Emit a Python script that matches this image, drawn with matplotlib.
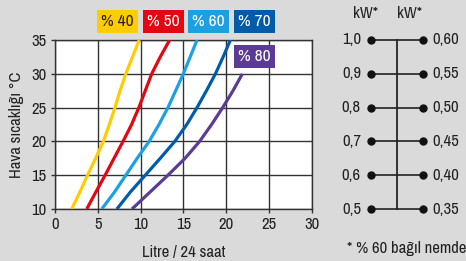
import matplotlib
matplotlib.use('Agg')
import matplotlib.pyplot as plt
from matplotlib.patches import Rectangle

plt.rcParams['font.family'] = ['Archivo Narrow', 'DejaVu Sans']

# temperatures (y) and litres / 24 h (x) per humidity curve
temp = [10, 12.5, 15, 17.5, 20, 22.5, 25, 27.5, 30, 32.5, 35]
rh40 = [1.95, 2.9, 3.8, 4.75, 5.65, 6.35, 7.0, 7.6, 8.28, 9.06, 9.84]
rh50 = [3.71, 4.77, 5.86, 6.9, 7.95, 8.95, 9.8, 10.55, 11.3, 12.3, 13.4]
rh60 = [5.47, 6.95, 8.28, 9.6, 11.0, 12.15, 13.2, 14.1, 15.0, 15.8, 16.6]
rh70 = [7.23, 8.8, 10.55, 12.3, 14.0, 15.4, 16.6, 17.7, 18.75, 19.65, 20.5]
temp80 = [10, 12.5, 15, 17.5, 20, 22.5, 25, 27.5, 30]
rh80 = [9.0, 11.1, 13.2, 15.2, 16.9, 18.3, 19.6, 20.8, 21.9]

labels = ['% 40', '% 50', '% 60', '% 70', '% 80']
colors = ['#FFCC00', '#E30613', '#1BA1E2', '#005CA9', '#5B3B93']
label_txt = ['#222222', 'white', 'white', 'white', 'white']

kw_left = ['1,0', '0,9', '0,8', '0,7', '0,6', '0,5']
kw_right = ['0,60', '0,55', '0,50', '0,45', '0,40', '0,35']

bg = '#DADADA'
W, H = 466, 261
fig = plt.figure(figsize=(W / 100, H / 100), dpi=100, facecolor=bg)

ax = fig.add_axes([55 / W, 1 - 209 / H, 256.7 / W, 169 / H])
ax.set_facecolor('white')
xs = [rh40, rh50, rh60, rh70, rh80]
ys = [temp, temp, temp, temp, temp80]
for x, y, c in zip(xs, ys, colors):
    ax.plot(x, y, color=c, lw=2.3, solid_capstyle='butt', solid_joinstyle='round', zorder=3)
ax.set_xlim(0, 30)
ax.set_ylim(10, 35)
ax.set_xticks(range(0, 31, 5))
ax.set_yticks(range(10, 36, 5))
ax.grid(True, color='#333333', lw=1.0)
for s in ax.spines.values():
    s.set_color('#333333')
    s.set_linewidth(1.0)
ax.tick_params(colors='#333333', labelcolor='#222222', labelsize=12, length=3, width=1.0, pad=3)
ax.set_xlabel('Litre / 24 saat', fontsize=12, color='#222222', labelpad=9)
ax.set_ylabel('Hava sıcaklığı °C', fontsize=12, color='#222222', labelpad=5)

# humidity label boxes (pixel positions of the boxes)
box_x = [97, 143, 188, 234, 234]
box_y = [10, 10, 10, 10, 45]
bw, bh = 41, 23
for lab, c, tc, bx, by in zip(labels, colors, label_txt, box_x, box_y):
    fig.patches.append(Rectangle((bx / W, 1 - (by + bh) / H), bw / W, bh / H,
                                 transform=fig.transFigure, fc=c, ec='none'))
    fig.text((bx + bw / 2) / W, 1 - (by + bh / 2) / H, lab, color=tc, fontsize=12.5,
             ha='center', va='center')

# right-hand kW scale
ax2 = fig.add_axes([320 / W, 1 - 209 / H, 146 / W, 169 / H])
ax2.set_xlim(320, 466)
ax2.set_ylim(10, 35)
ax2.axis('off')
rows = list(range(35, 9, -5))
ax2.plot([397, 397], [10, 35], color='#333333', lw=1.4, clip_on=False)
for r, l, rr in zip(rows, kw_left, kw_right):
    ax2.plot([371, 423], [r, r], color='#222222', lw=1.2, clip_on=False)
    ax2.plot([371, 423], [r, r], 'o', color='#111111', ms=5, clip_on=False)
    ax2.text(361, r, l, ha='right', va='center', fontsize=12, color='#222222')
    ax2.text(432, r, rr, ha='left', va='center', fontsize=12, color='#222222')

fig.text(366 / W, 1 - 13 / H, 'kW*', ha='center', va='center', fontsize=12, color='#222222')
fig.text(410 / W, 1 - 13 / H, 'kW*', ha='center', va='center', fontsize=12, color='#222222')
fig.text(347 / W, 1 - 248 / H, '* % 60 bağıl nemde', ha='left', va='center', fontsize=12, color='#222222')

fig.savefig('out.png', dpi=100, facecolor=bg)
